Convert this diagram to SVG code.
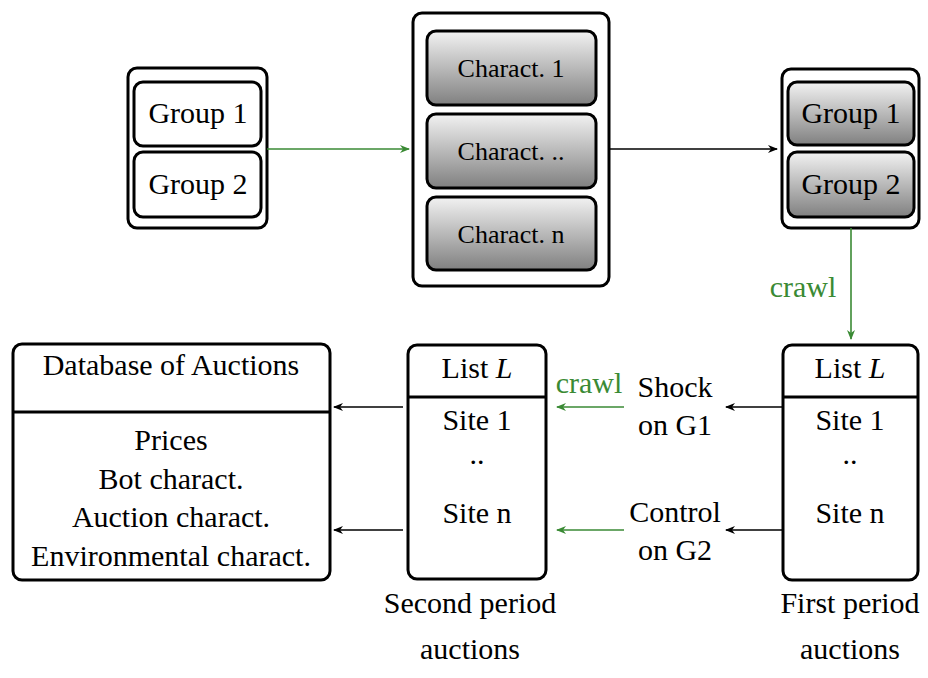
<svg xmlns="http://www.w3.org/2000/svg" width="928" height="678" viewBox="0 0 928 678" font-family="'Liberation Serif', 'Times New Roman', 'DejaVu Serif', serif">
<defs>
<linearGradient id="g" x1="0" y1="0" x2="0" y2="1">
<stop offset="0" stop-color="#f2f2f2"/>
<stop offset="1" stop-color="#808080"/>
</linearGradient>
<marker id="ab" markerWidth="10" markerHeight="8" refX="9" refY="4" orient="auto" markerUnits="userSpaceOnUse">
<path d="M0,0 L10,4 L0,8 L3,4 Z" fill="#000"/>
</marker>
<marker id="ag" markerWidth="10" markerHeight="8" refX="9" refY="4" orient="auto" markerUnits="userSpaceOnUse">
<path d="M0,0 L10,4 L0,8 L3,4 Z" fill="#3a8a34"/>
</marker>
</defs>
<style>
text{font-family:'Liberation Serif','Times New Roman','DejaVu Serif',serif;fill:#000;text-anchor:middle}
.t{font-size:30px}
.s{font-size:26px}
.grn{fill:#3a8a34}
.box{fill:#fff;stroke:#000;stroke-width:3}
.gbox{fill:url(#g);stroke:#000;stroke-width:3}
.ln{stroke:#000;stroke-width:3}
.c{fill:none;stroke:#000;stroke-width:1.6}
.cg{fill:none;stroke:#3a8a34;stroke-width:1.6}
</style>
<g id="groups-left">
<rect class="box" x="128" y="68" width="139" height="160" rx="9"/>
<rect class="box" x="134" y="82" width="127" height="64" rx="9"/>
<rect class="box" x="134" y="152" width="127" height="65" rx="9"/>
<text class="t" x="198" y="123">Group 1</text>
<text class="t" x="198" y="194">Group 2</text>
</g>
<g id="characteristics">
<rect class="box" x="413" y="13" width="196" height="273" rx="9"/>
<rect class="gbox" x="427" y="31" width="169" height="74" rx="9"/>
<rect class="gbox" x="427" y="114" width="169" height="74" rx="9"/>
<rect class="gbox" x="427" y="197" width="169" height="73" rx="9"/>
<text class="s" x="511" y="77">Charact. 1</text>
<text class="s" x="511" y="160">Charact. ..</text>
<text class="s" x="511" y="243">Charact. n</text>
</g>
<g id="groups-right">
<rect class="box" x="782" y="69" width="137" height="159" rx="9"/>
<rect class="gbox" x="788" y="82" width="126" height="63" rx="9"/>
<rect class="gbox" x="788" y="152" width="126" height="65" rx="9"/>
<text class="t" x="851" y="123">Group 1</text>
<text class="t" x="851" y="194">Group 2</text>
</g>
<g id="list-first">
<rect class="box" x="783" y="345" width="135" height="235" rx="9"/>
<line class="ln" x1="783" y1="397" x2="918" y2="397"/>
<text class="t" x="850" y="378">List <tspan font-style="italic">L</tspan></text>
<text class="t" x="850" y="430">Site 1</text>
<text class="t" x="850" y="464">..</text>
<text class="t" x="850" y="523">Site n</text>
</g>
<g id="list-second">
<rect class="box" x="408" y="345" width="138" height="234" rx="9"/>
<line class="ln" x1="408" y1="397" x2="546" y2="397"/>
<text class="t" x="477" y="378">List <tspan font-style="italic">L</tspan></text>
<text class="t" x="477" y="430">Site 1</text>
<text class="t" x="477" y="464">..</text>
<text class="t" x="477" y="523">Site n</text>
</g>
<g id="database">
<rect class="box" x="13" y="344" width="317" height="236" rx="9"/>
<line class="ln" x1="13" y1="412" x2="330" y2="412"/>
<text class="t" x="171" y="375">Database of Auctions</text>
<text class="t" x="171" y="450">Prices</text>
<text class="t" x="171" y="489">Bot charact.</text>
<text class="t" x="171" y="527">Auction charact.</text>
<text class="t" x="171" y="566">Environmental charact.</text>
</g>
<g id="labels">
<text class="t" x="675" y="397">Shock</text>
<text class="t" x="675" y="435">on G1</text>
<text class="t" x="675" y="522">Control</text>
<text class="t" x="675" y="560">on G2</text>
<text class="t" x="470" y="613">Second period</text>
<text class="t" x="470" y="659">auctions</text>
<text class="t" x="850" y="613">First period</text>
<text class="t" x="850" y="659">auctions</text>
</g>
<g id="connectors">
<line class="cg" x1="267" y1="149" x2="409" y2="149" marker-end="url(#ag)"/>
<line class="c" x1="609" y1="149" x2="777" y2="149" marker-end="url(#ab)"/>
<line class="cg" x1="851" y1="228" x2="851" y2="339" marker-end="url(#ag)"/>
<text class="t grn" x="803" y="297">crawl</text>
<line class="c" x1="783" y1="407" x2="726" y2="407" marker-end="url(#ab)"/>
<line class="c" x1="783" y1="530" x2="726" y2="530" marker-end="url(#ab)"/>
<line class="cg" x1="624" y1="407" x2="557" y2="407" marker-end="url(#ag)"/>
<line class="cg" x1="624" y1="530" x2="557" y2="530" marker-end="url(#ag)"/>
<text class="t grn" x="589" y="393">crawl</text>
<line class="c" x1="403" y1="407" x2="334" y2="407" marker-end="url(#ab)"/>
<line class="c" x1="403" y1="530" x2="334" y2="530" marker-end="url(#ab)"/>
</g>
</svg>
